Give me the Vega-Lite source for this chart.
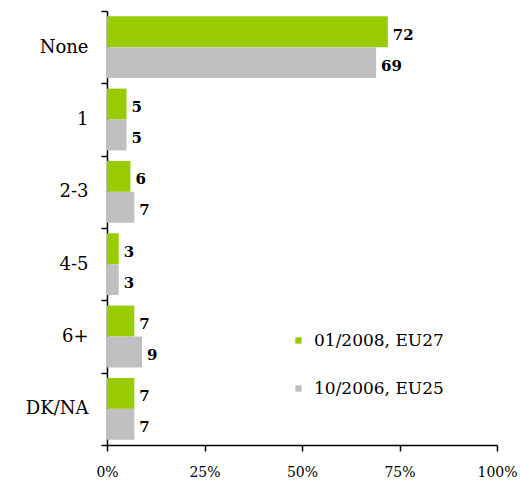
{
  "$schema": "https://vega.github.io/schema/vega-lite/v6.json",
  "width": 390,
  "height": 434,
  "autosize": {"type": "none"},
  "padding": {"left": 107, "top": 11, "right": 24, "bottom": 38},
  "config": {
    "view": {"stroke": null},
    "font": "DejaVu Serif",
    "axis": {"grid": false, "domainColor": "#000000", "tickColor": "#000000", "labelColor": "#000000"}
  },
  "data": {
    "values": [
      {"answer": "None", "wave": "01/2008, EU27", "pct": 72},
      {"answer": "None", "wave": "10/2006, EU25", "pct": 69},
      {"answer": "1", "wave": "01/2008, EU27", "pct": 5},
      {"answer": "1", "wave": "10/2006, EU25", "pct": 5},
      {"answer": "2-3", "wave": "01/2008, EU27", "pct": 6},
      {"answer": "2-3", "wave": "10/2006, EU25", "pct": 7},
      {"answer": "4-5", "wave": "01/2008, EU27", "pct": 3},
      {"answer": "4-5", "wave": "10/2006, EU25", "pct": 3},
      {"answer": "6+", "wave": "01/2008, EU27", "pct": 7},
      {"answer": "6+", "wave": "10/2006, EU25", "pct": 9},
      {"answer": "DK/NA", "wave": "01/2008, EU27", "pct": 7},
      {"answer": "DK/NA", "wave": "10/2006, EU25", "pct": 7}
    ]
  },
  "encoding": {
    "y": {
      "field": "answer",
      "type": "nominal",
      "sort": ["None", "1", "2-3", "4-5", "6+", "DK/NA"],
      "scale": {"paddingInner": 0, "paddingOuter": 0},
      "axis": {
        "title": null,
        "domainWidth": 1.5,
        "tickWidth": 1.5,
        "tickSize": 6,
        "tickBand": "extent",
        "labelFontSize": 18,
        "labelPadding": 13
      }
    },
    "yOffset": {
      "field": "wave",
      "sort": ["01/2008, EU27", "10/2006, EU25"],
      "scale": {"paddingInner": 0, "paddingOuter": 0.17}
    },
    "x": {
      "field": "pct",
      "type": "quantitative",
      "scale": {"domain": [0, 100]},
      "axis": {
        "title": null,
        "values": [0, 25, 50, 75, 100],
        "labelExpr": "datum.value + '%'",
        "domainWidth": 1.5,
        "tickWidth": 1.5,
        "tickSize": 6,
        "labelFontSize": 14,
        "labelPadding": 14,
        "labelFlush": false
      }
    }
  },
  "layer": [
    {
      "mark": {"type": "bar"},
      "encoding": {
        "color": {
          "field": "wave",
          "type": "nominal",
          "sort": ["01/2008, EU27", "10/2006, EU25"],
          "scale": {"range": ["#99CC00", "#C0C0C0"]},
          "legend": {
            "title": null,
            "orient": "none",
            "legendX": 183,
            "legendY": 321,
            "symbolType": "square",
            "symbolSize": 40,
            "symbolStrokeWidth": 0,
            "symbolOpacity": 1,
            "labelFontSize": 17,
            "labelOffset": 7,
            "rowPadding": 30,
            "labelColor": "#000000"
          }
        }
      }
    },
    {
      "mark": {"type": "text", "align": "left", "baseline": "middle", "dx": 5, "dy": 3, "fontWeight": "bold", "fontSize": 15, "color": "#000000"},
      "encoding": {"text": {"field": "pct", "type": "quantitative"}}
    }
  ]
}
